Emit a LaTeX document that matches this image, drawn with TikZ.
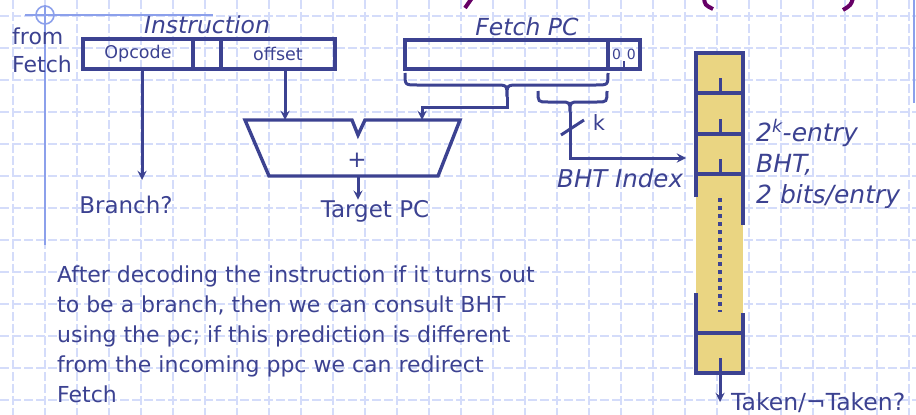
\documentclass[tikz,border=0pt]{standalone}
\usepackage{fontspec}
\setmainfont{DejaVu Sans}
\usepackage{tikz}
\usetikzlibrary{calc,arrows,positioning}
\definecolor{ink}{RGB}{60,66,145}
\definecolor{bhtfill}{RGB}{234,213,130}
\definecolor{gridblue}{RGB}{212,220,250}
\definecolor{guide}{RGB}{140,160,235}
\definecolor{slidetitle}{RGB}{102,0,102}

\begin{document}
\begin{tikzpicture}[x=1pt, y=-1pt, >=stealth,
  field/.style={rectangle, draw=ink, line width=3.4pt, minimum height=30pt,
    inner sep=0pt, outer sep=0pt, text=ink, font=\fontsize{17.5}{20}\selectfont},
  tag/.style={text=ink, inner sep=0pt, font=\fontsize{23}{28}\selectfont},
  itag/.style={text=ink, inner sep=0pt, font=\fontsize{23.5}{31}\selectfont\itshape},
  wire/.style={draw=ink, line width=3pt}]

  \useasboundingbox (0,0) rectangle (916,415);
  \clip (0,0) rectangle (916,415);
  % slide background
  \foreach \x in {13,45,...,909}
    \draw[gridblue, line width=1.4pt, dash pattern=on 9pt off 3pt] (\x,0) -- (\x,415);
  \foreach \y in {16,48,...,400}
    \draw[gridblue, line width=1.4pt, dash pattern=on 9pt off 3pt] (0,\y) -- (916,\y);
  \draw[guide, line width=1.6pt] (45,5) -- (45,245) (25,15) -- (213,15) (914,0) -- (914,103);
  \draw[guide, line width=1.6pt] (45,15) circle (9);
  \draw[slidetitle, line width=4pt] (472,-2) -- (465,8);
  \draw[slidetitle, line width=4pt] (704,-2) .. controls (705,5) .. (713,9);
  \draw[slidetitle, line width=4pt] (853,-2) .. controls (851,5) .. (843,10);

  % instruction word
  \node[field, minimum width=110pt, anchor=north west] (opcode) at (83,39) {Opcode};
  \node[field, minimum width=28pt, right=0pt of opcode] (gap) {};
  \node[field, minimum width=114pt, right=0pt of gap] (offset) {offset};
  \node[itag, anchor=base] (instr) at (207,34) {Instruction};
  \node[tag, align=left, anchor=north west, font=\fontsize{22}{28}\selectfont] (from) at (12,28) {from\\Fetch};

  % fetch pc
  \node[field, minimum width=203pt, minimum height=29pt, anchor=north west] (pc) at (405,40) {};
  \node[field, minimum width=32pt, minimum height=29pt, right=0pt of pc,
    font=\fontsize{14}{16}\selectfont] (low) {0\hspace{6pt}0};
  \draw[wire, line width=2pt] (low.south) -- ++(0,-8);
  \node[itag, anchor=base] (fpc) at (527,35) {Fetch PC};

  \coordinate (bigtip) at (507,97);
  \coordinate (smalltip) at (570,112);
  \coordinate (addA) at (285,120);
  \coordinate (addB) at (422,120);
  \coordinate (addOut) at (358,176);
  \coordinate (brq) at (142,180);
  \coordinate (bhtin) at (686,158);
  \coordinate (bhtout) at (720,358);

  \draw[wire] (405,73) .. controls (405,85) .. (417,85) -- (495,85)
    .. controls (507,85) .. (bigtip) .. controls (507,85) .. (519,85)
    -- (596,85) .. controls (608,85) .. (608,73);
  \draw[wire] (538,91) .. controls (538,102) .. (548,102) -- (560,102)
    .. controls (570,102) .. (smalltip) .. controls (570,102) .. (580,102)
    -- (597,102) .. controls (607,102) .. (607,91);

  % adder
  \draw[wire, line width=3.4pt] (245,120) -- (352,120) -- (358,135) -- (365,120)
    -- (460,120) -- (438,176) -- (269,176) -- cycle;
  \node[tag] (plus) at (357,160) {+};
  \node[tag, anchor=base] (target) at (375,217) {Target PC};
  \node[tag, anchor=base] (branch) at (126,213) {Branch?};

  \draw[wire,->] (opcode.south -| brq) -- (brq);
  \draw[wire,->] (offset.south -| addA) -- (addA);
  \draw[wire,->] (bigtip) -- ++(0,10) -| (addB);
  \draw[wire,->] (addOut) -- (addOut |- target.north);
  \draw[wire,->] (smalltip) |- (bhtin);
  \draw[wire] (561,135) -- (584,120);
  \node[tag, font=\fontsize{21}{24}\selectfont] (k) at (599,123) {k};
  \node[itag, anchor=base west, font=\fontsize{24.5}{31}\selectfont\itshape] (idx) at (557,187) {BHT Index};

  % branch history table
  \fill[bhtfill] (696,53) rectangle (743,373);
  \draw[wire, line width=3.4pt] (696,197) -- (696,53) -- (743,53) -- (743,225);
  \draw[wire, line width=3.4pt] (696,293) -- (696,373) -- (743,373) -- (743,313);
  \foreach \y in {93,134,174,333}
    \draw[wire, line width=3.4pt] (696,\y) -- (743,\y);
  \foreach \y in {93,134,174}
    \draw[wire] (720,\y) -- ++(0,-15);
  \draw[ink, line width=3.4pt, dash pattern=on 4pt off 4pt] (720,198) -- (720,312);
  \draw[wire,->] (bhtout) -- ++(0,44);
  \node[tag, anchor=base west, font=\fontsize{23.5}{26}\selectfont] (taken) at (731,410) {Taken/¬Taken?};
  \node[itag, align=left, anchor=north west, font=\fontsize{25}{31}\selectfont\itshape] (bhtnote) at (756,119)
    {2\textsuperscript{k}-entry\\BHT,\\2 bits/entry};

  \node[tag, align=left, anchor=north west, font=\fontsize{22}{30}\selectfont] (note) at (57,266)
    {After decoding the instruction if it turns out\\to be a branch, then we can consult BHT\\using the pc; if this prediction is different\\from the incoming ppc we can redirect\\Fetch};
\end{tikzpicture}
\end{document}
